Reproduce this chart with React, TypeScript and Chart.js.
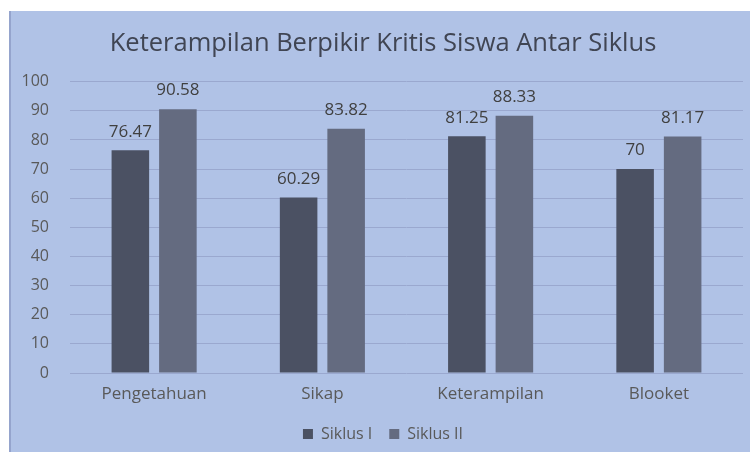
import { useEffect, useRef } from "react";
import { Chart, registerables } from "chart.js";

Chart.register(...registerables);

const chartTitle = "Keterampilan Berpikir Kritis Siswa Antar Siklus";
const categories = ["Pengetahuan", "Sikap", "Keterampilan", "Blooket"];
const seriesNames = ["Siklus I", "Siklus II"];
const siklusI = [76.47, 60.29, 81.25, 70];
const siklusII = [90.58, 83.82, 88.33, 81.17];
const yMin = 0;
const yMax = 100;
const yStep = 10;

const FONT = "'Open Sans', Lato, sans-serif";

const valueLabels = {
  id: "valueLabels",
  afterDatasetsDraw(chart: any) {
    const ctx = chart.ctx;
    ctx.save();
    ctx.font = `17px ${FONT}`;
    ctx.fillStyle = "#404040";
    ctx.textAlign = "center";
    ctx.textBaseline = "bottom";
    chart.data.datasets.forEach((ds: any, i: number) => {
      const meta = chart.getDatasetMeta(i);
      meta.data.forEach((bar: any, j: number) => {
        ctx.fillText(String(ds.data[j]), bar.x, bar.y - 10);
      });
    });
    ctx.restore();
  },
};

export default function App() {
  const ref = useRef<HTMLCanvasElement | null>(null);

  useEffect(() => {
    if (!ref.current) return;
    Chart.defaults.font.family = FONT;
    const chart = new Chart(ref.current, {
      type: "bar",
      data: {
        labels: categories,
        datasets: [
          {
            label: seriesNames[0],
            data: siklusI,
            backgroundColor: "#4B5163",
            categoryPercentage: 0.565,
            barPercentage: 0.79,
          },
          {
            label: seriesNames[1],
            data: siklusII,
            backgroundColor: "#646B80",
            categoryPercentage: 0.565,
            barPercentage: 0.79,
          },
        ],
      },
      options: {
        responsive: false,
        animation: false,
        layout: { padding: { left: 12, right: 7, top: 0, bottom: 0 } },
        plugins: {
          title: {
            display: true,
            text: chartTitle,
            color: "#404553",
            font: { size: 25.5, weight: "normal" },
            padding: { top: 17.8, bottom: 22.3 },
          },
          legend: {
            position: "bottom",
            labels: {
              boxWidth: 10,
              boxHeight: 10,
              padding: 17,
              color: "#595959",
              font: { size: 16 },
            },
          },
          tooltip: { enabled: false },
        },
        scales: {
          x: {
            grid: { display: false, drawTicks: false },
            border: { display: false },
            ticks: { color: "#595959", font: { size: 17 }, padding: 10.8 },
            afterFit(scale: any) {
              scale.height = 36;
            },
          },
          y: {
            min: yMin,
            max: yMax,
            ticks: { stepSize: yStep, color: "#595959", font: { size: 16 }, padding: 21 },
            grid: { color: "#9AA8CF", drawTicks: false },
            border: { display: false },
            afterFit(scale: any) {
              scale.width = 47;
            },
          },
        },
      },
      plugins: [valueLabels],
    });
    return () => chart.destroy();
  }, []);

  return (
    <div
      style={{
        position: "absolute",
        left: 9,
        top: 11,
        width: 739,
        height: 441,
        background: "#B0C2E6",
        borderLeft: "2px solid #95A4CD",
      }}
    >
      <canvas ref={ref} width={739} height={441} style={{ display: "block" }} />
    </div>
  );
}
